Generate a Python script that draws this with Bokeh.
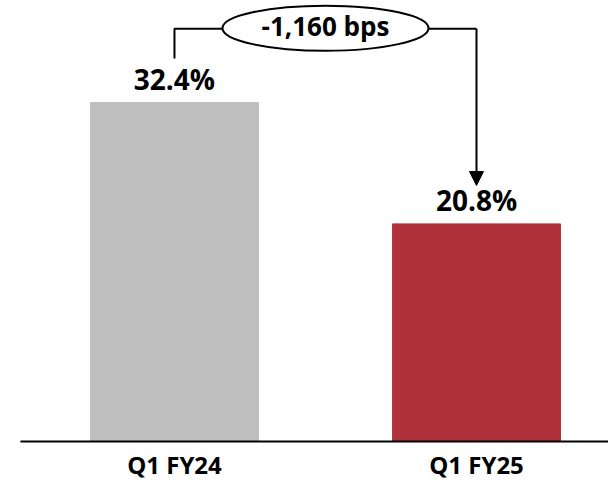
from bokeh.plotting import figure
from bokeh.models import Range1d, Arrow, NormalHead, ColumnDataSource
from bokeh.core.properties import value
from bokeh.embed import file_html
from bokeh.resources import INLINE

# Margin by quarter
categories = ["Q1 FY24", "Q1 FY25"]
margins = [32.4, 20.8]
bar_colors = ["#BFBFBF", "#B1313A"]

FONT = "Open Sans"
xs = list(range(len(categories)))
labels = [f"{m:.1f}%" for m in margins]
change_bps = round((margins[1] - margins[0]) * 100)

p = figure(width=608, height=480, output_backend="svg", toolbar_location=None,
           x_range=Range1d(-0.576, 1.437), y_range=Range1d(-3.727, 42.15),
           min_border=0)
p.outline_line_color = None
p.grid.grid_line_color = None
p.axis.visible = False
p.background_fill_color = "white"
p.border_fill_color = "white"

src = ColumnDataSource(dict(x=xs, top=margins, color=bar_colors, label=labels))
p.vbar(x="x", top="top", width=0.556, color="color", source=src)

# value labels above the bars
p.text(x="x", y="top", text="label", source=src, text_align="center",
       text_baseline="bottom", y_offset=-5, text_font=value(FONT),
       text_font_style="bold", text_font_size="28px", text_color="black")

# baseline and category labels
p.segment(x0=[-0.51], y0=[0], x1=[1.437], y1=[0], line_color="black",
          line_width=2)
p.text(x=xs, y=[-2.2] * len(xs), text=categories, text_align="center",
       text_baseline="middle", text_font=value(FONT),
       text_font_style="bold", text_font_size="24px", text_color="black")

# change bracket
bracket_y = 39.45
ell_x, ell_y, ell_w, ell_h = 0.5, 39.5, 0.682, 4.3
p.line(x=[xs[0], xs[0], ell_x - ell_w / 2], y=[36.6, bracket_y, bracket_y],
       line_color="black", line_width=2)
p.line(x=[ell_x + ell_w / 2, xs[1]], y=[bracket_y, bracket_y],
       line_color="black", line_width=2)
p.add_layout(Arrow(end=NormalHead(size=14, fill_color="black", line_color="black"),
                   x_start=xs[1], y_start=bracket_y, x_end=xs[1], y_end=24.47,
                   line_color="black", line_width=2))
p.ellipse(x=ell_x, y=ell_y, width=ell_w, height=ell_h, fill_color="white",
          line_color="black", line_width=2)
p.text(x=[ell_x], y=[39.76], text=[f"{change_bps:,} bps"], text_align="center",
       text_baseline="middle", text_font=value(FONT), text_font_style="bold",
       text_font_size="26px", text_color="black")

open("out.html", "w").write(file_html(p, INLINE))
